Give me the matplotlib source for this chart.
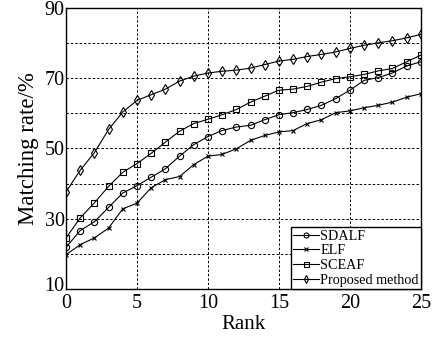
import numpy as np
import matplotlib
matplotlib.use('Agg')
import matplotlib.pyplot as plt
import matplotlib.transforms as mtransforms

plt.rcParams['font.family'] = ['Liberation Serif', 'DejaVu Serif']

rank = np.arange(0, 26)

sdalf = [21.8, 26.6, 29.1, 33.2, 37.3, 39.4, 41.8, 44.2, 47.8, 51.1, 53.4, 55.1, 56.1,
         56.6, 58.2, 59.6, 60.2, 61.1, 62.3, 64.2, 66.6, 69.4, 70.2, 71.5, 73.5, 74.7]
elf = [19.7, 22.6, 24.5, 27.3, 32.8, 34.4, 38.8, 41.1, 42.0, 45.4, 47.8, 48.3, 49.9,
       52.3, 53.7, 54.7, 55.1, 57.1, 58.2, 60.2, 60.7, 61.6, 62.3, 63.2, 64.6, 65.6]
sceaf = [24.5, 30.2, 34.5, 39.2, 43.2, 45.7, 48.6, 51.8, 54.9, 57.1, 58.3, 59.6, 61.1,
         63.2, 64.9, 66.6, 66.9, 67.7, 68.9, 69.9, 70.4, 71.1, 72.1, 72.8, 74.7, 76.6]
proposed = [37.6, 43.8, 48.8, 55.4, 60.4, 63.7, 65.3, 66.9, 69.2, 70.6, 71.5, 72.0, 72.3,
            72.9, 73.9, 74.9, 75.4, 76.2, 76.8, 77.5, 78.5, 79.4, 80.1, 80.7, 81.5, 82.5]

series = [
    ('SDALF', sdalf, 'o', 4.5),
    ('ELF', elf, 'x', 3),
    ('SCEAF', sceaf, 's', 4.5),
    ('Proposed method', proposed, 'd', 5),
]

fig = plt.figure(figsize=(4.43, 3.37), dpi=100)
ax = fig.add_axes([0.149, 0.143, 0.801, 0.833])

for name, vals, mk, ms in series:
    ax.plot(rank, vals, color='black', lw=0.8, marker=mk, ms=ms,
            mfc='none', mec='black', mew=0.8, label=name)

ax.set_xlim(0, 25)
ax.set_ylim(10, 90)
ax.set_xticks([0, 5, 10, 15, 20, 25])
ax.set_yticks([10, 30, 50, 70, 90])
ax.set_yticks(np.arange(10, 91, 10), minor=True)
ax.tick_params(which='both', length=0, labelsize=14.5)
ax.tick_params(axis='y', pad=1)
ax.tick_params(axis='x', pad=4)
ax.grid(True, which='both', color='black', ls=(0, (2.5, 2)), lw=0.7)
ax.set_axisbelow(True)
for s in ax.spines.values():
    s.set_linewidth(1.0)

# lift the bottom y label a little so it clears the "0" below
lbl = ax.get_yticklabels()[0]
lbl.set_transform(lbl.get_transform() +
                  mtransforms.ScaledTranslation(0, 5 / 100, fig.dpi_scale_trans))

ax.set_xlabel('Rank', fontsize=15, labelpad=1)
ax.set_ylabel('Matching rate/%', fontsize=16.5, labelpad=4)

leg = ax.legend(loc='lower right', fontsize=10.2, frameon=True, fancybox=False,
                borderaxespad=0, borderpad=0.15, labelspacing=0.12,
                handlelength=1.8, handletextpad=0.1, edgecolor='black',
                framealpha=1, markerscale=0.8)
leg.get_frame().set_linewidth(1.0)

fig.savefig('out.png', dpi=100)
